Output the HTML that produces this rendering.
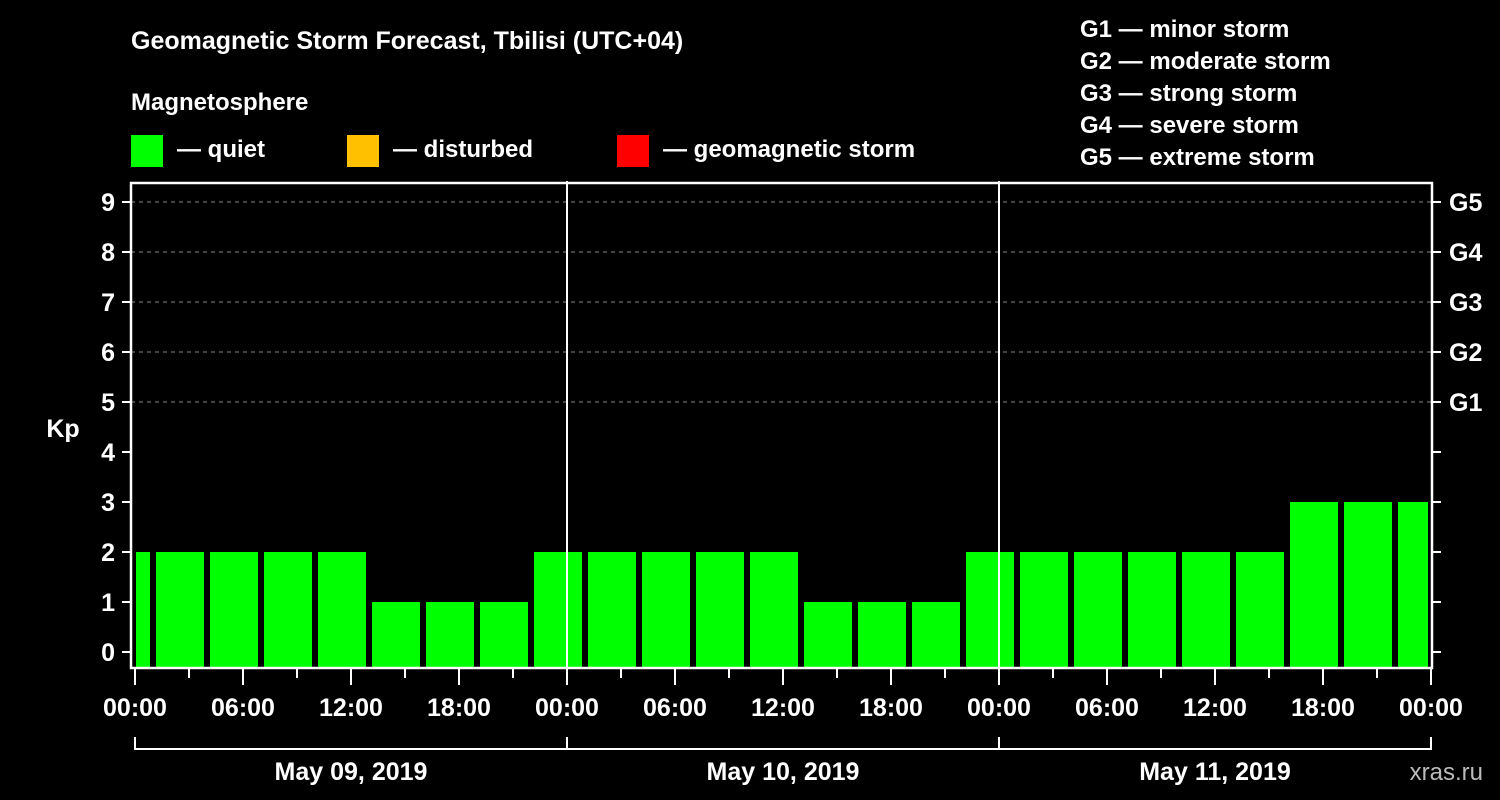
<!DOCTYPE html>
<html><head><meta charset="utf-8"><style>
html,body{margin:0;padding:0;background:#000;}
svg{display:block;font-family:"Liberation Sans",Arial,sans-serif;font-weight:bold;}
</style></head><body>
<svg width="1500" height="800" viewBox="0 0 1500 800" xmlns="http://www.w3.org/2000/svg">
<rect width="1500" height="800" fill="#000"/>
<text x="131" y="49" fill="#fff" font-size="25">Geomagnetic Storm Forecast, Tbilisi (UTC+04)</text>
<text x="131" y="110" fill="#fff" font-size="24">Magnetosphere</text>
<g font-size="24" fill="#fff">
<rect x="131" y="135" width="32" height="32" fill="#00ff00"/>
<text x="177" y="157">— quiet</text>
<rect x="347" y="135" width="32" height="32" fill="#ffc000"/>
<text x="393" y="157">— disturbed</text>
<rect x="617" y="135" width="32" height="32" fill="#ff0000"/>
<text x="663" y="157">— geomagnetic storm</text>
</g>
<g font-size="24" fill="#fff">
<text x="1080" y="37">G1 — minor storm</text>
<text x="1080" y="69">G2 — moderate storm</text>
<text x="1080" y="101">G3 — strong storm</text>
<text x="1080" y="133">G4 — severe storm</text>
<text x="1080" y="165">G5 — extreme storm</text>
</g>
<text x="63" y="437" fill="#fff" font-size="25" text-anchor="middle">Kp</text>
<text x="1483" y="780" fill="#bbb" font-size="24" font-weight="normal" text-anchor="end">xras.ru</text>
<g id="grid"></g>
<g id="bars"></g>
<g id="axes"></g>
</svg>
<script>
const kpValues=[2,2,2,2,2,1,1,1,2,2,2,2,2,1,1,1,2,2,2,2,2,2,3,3,3];
const barCenterHours=[-0.5,2.5,5.5,8.5,11.5,14.5,17.5,20.5,23.5,26.5,29.5,32.5,35.5,38.5,41.5,44.5,47.5,50.5,53.5,56.5,59.5,62.5,65.5,68.5,71.5];
const yTicks=[0,1,2,3,4,5,6,7,8,9];
const gLabels=["G1","G2","G3","G4","G5"];
const gKp=[5,6,7,8,9];
const timeTicks=[0,6,12,18,24,30,36,42,48,54,60,66,72];
const timeLabels=["00:00","06:00","12:00","18:00","00:00","06:00","12:00","18:00","00:00","06:00","12:00","18:00","00:00"];
const dateLabels=["May 09, 2019","May 10, 2019","May 11, 2019"];
const NS="http://www.w3.org/2000/svg";
const X=h=>135+h*18, Y=k=>652-k*50;
const L=131,R=1432,T=183,B=668;
function mk(p,tag,a,txt){const e=document.createElementNS(NS,tag);for(const k in a)e.setAttribute(k,a[k]);if(txt!=null)e.textContent=txt;p.appendChild(e);return e;}
const grid=document.getElementById('grid'),bars=document.getElementById('bars'),axes=document.getElementById('axes');
gKp.forEach(k=>{const l=mk(grid,'line',{x1:L,x2:R,y1:Y(k),y2:Y(k),stroke:'#888','stroke-width':1,'stroke-dasharray':'4,4'});

});
kpValues.forEach((v,i)=>{const c=X(barCenterHours[i]);let x1=Math.max(c-24,136),x2=Math.min(c+24,1428);
const col=v>=5?'#ff0000':(v>=4?'#ffc000':'#00ff00');
const r=mk(bars,'rect',{x:x1,y:Y(v),width:x2-x1,height:B-Y(v),fill:col});

});
[24,48].forEach(h=>{const l=mk(axes,'line',{x1:X(h),x2:X(h),y1:T-2,y2:B,stroke:'#fff','stroke-width':2});

});
const fr=mk(axes,'path',{d:`M${L} ${B}V${T}H${R}V${B}Z`,fill:'none',stroke:'#fff','stroke-width':2.5});


yTicks.forEach(k=>{mk(axes,'line',{x1:122,x2:L,y1:Y(k),y2:Y(k),stroke:'#fff','stroke-width':2});
mk(axes,'line',{x1:R,x2:1441,y1:Y(k),y2:Y(k),stroke:'#fff','stroke-width':2});
const t=mk(axes,'text',{x:115,y:Y(k)+9,fill:'#fff','font-size':25,'text-anchor':'end'},String(k));

});
gKp.forEach((k,i)=>{const t=mk(axes,'text',{x:1449,y:Y(k)+9,fill:'#fff','font-size':25},gLabels[i]);

});
for(let h=0;h<=72;h+=3){const major=h%6===0;mk(axes,'line',{x1:X(h),x2:X(h),y1:B,y2:major?685:678,stroke:'#fff','stroke-width':2});}
timeTicks.forEach((h,i)=>{const t=mk(axes,'text',{x:X(h),y:716,fill:'#fff','font-size':25,'text-anchor':'middle'},timeLabels[i]);

});
mk(axes,'path',{d:`M${X(0)} 737V749H${X(72)}V737M${X(24)} 737V749M${X(48)} 737V749`,fill:'none',stroke:'#fff','stroke-width':2});
dateLabels.forEach((d,i)=>{const t=mk(axes,'text',{x:X(i*24+12),y:780,fill:'#fff','font-size':25,'text-anchor':'middle'},d);

});
</script>
</body></html>
